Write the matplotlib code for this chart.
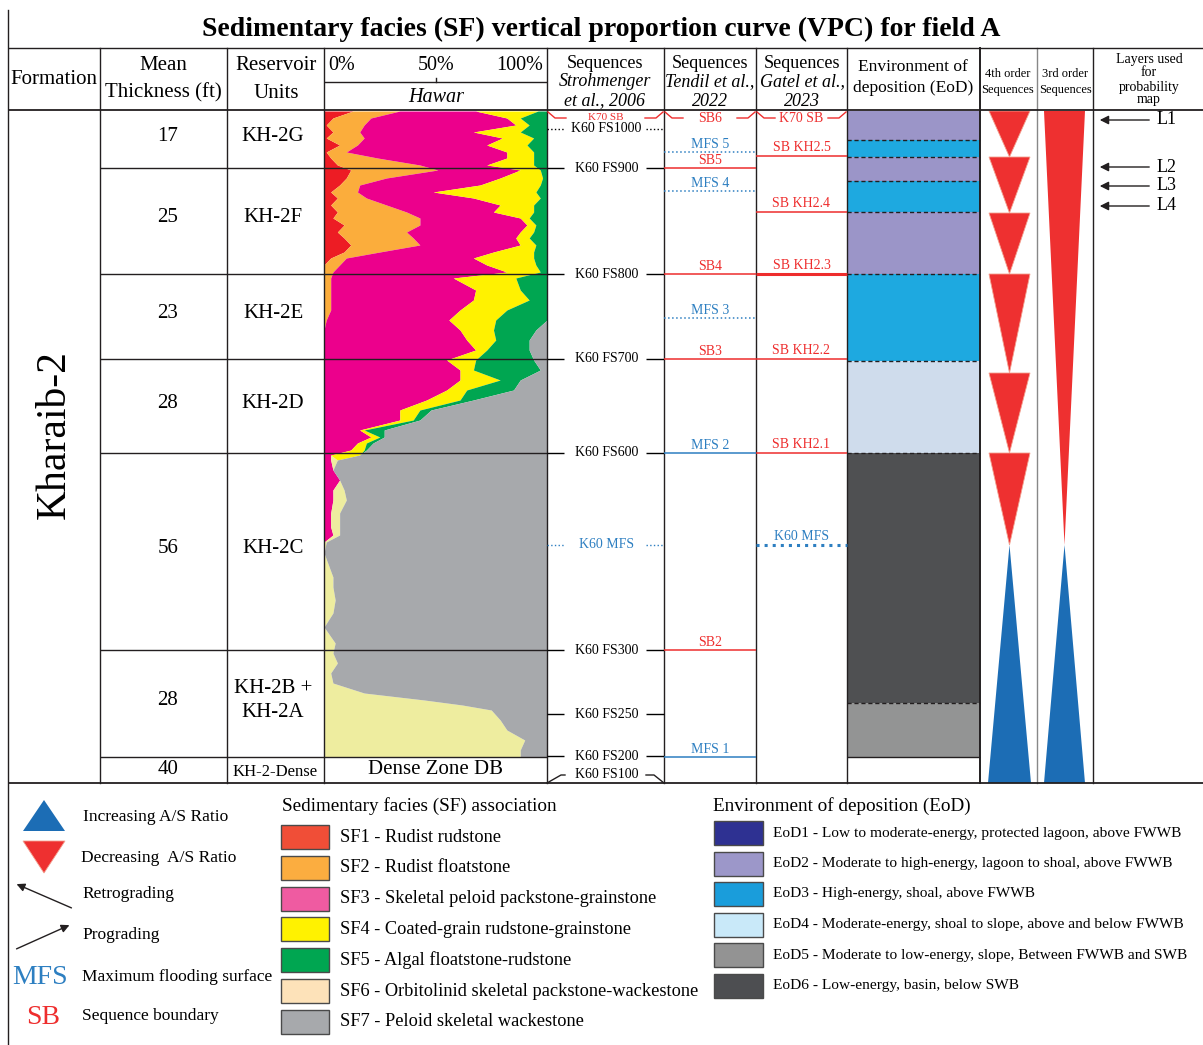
"""Sedimentary facies vertical proportion curve (VPC) panel for field A."""

import matplotlib.pyplot as plt
from matplotlib.patches import Polygon, Rectangle

plt.rcParams["font.family"] = ["Liberation Serif", "DejaVu Serif"]

# --- Data -------------------------------------------------------------------
units = ["KH-2G", "KH-2F", "KH-2E", "KH-2D", "KH-2C", "KH-2B +\nKH-2A", "KH-2-Dense"]
thickness_ft = [17, 25, 23, 28, 56, 28, 40]

# VPC: depth index below top of KH-2G (0 = top, 646 = base of KH-2A)
depth = [0, 7, 14, 21, 27, 34, 41, 47, 54, 59, 67, 74, 81, 87, 94, 101, 107,
         114, 121, 127, 134, 141, 147, 154, 161, 167, 179, 189, 199, 209, 219,
         229, 239, 249, 259, 269, 279, 289, 299, 309, 319, 326, 332, 339, 344,
         349, 359, 369, 379, 389, 402, 416, 424, 431, 442, 454, 466, 476, 489,
         502, 516, 532, 542, 552, 562, 572, 582, 589, 594, 599, 609, 619, 629,
         639, 646]
# facies proportions (%) at each depth sample; SF7 is the remainder
sf1 = [13, 4, 1, 4, 1, 7, 1, 3, 6, 12, 10, 7, 3, 6, 3, 6, 4, 9, 6, 9, 12, 9, 3,
       0, 0] + [0] * 50
sf2 = [21, 17, 17, 12, 17, 8, 9, 21, 37, 39, 18, 9, 12, 13, 25, 31, 39, 34, 31,
       31, 31, 16, 7, 7, 4, 3, 3, 3, 3, 1] + [0] * 45
sf3 = [34, 61, 68, 51, 62, 58, 72, 58, 30, 37, 51, 54, 34, 48, 51, 39, 45, 48,
       51, 46, 45, 51, 57, 66, 78, 55, 65, 64, 58, 55, 61, 64, 68, 55, 61, 61,
       55, 46, 34, 34, 16, 21, 15, 12, 3, 3, 4, 7, 4, 4, 3, 3, 4, 0, 0] + [0] * 20
sf6 = [0] * 45 + [3, 0, 0, 5, 6, 4, 4, 3, 1, 0, 2, 4, 4, 5, 4, 0, 5, 4, 6, 3, 4,
                  18, 45, 62, 75, 79, 82, 90, 88, 88]
sf4 = [28, 6, 6, 21, 14, 18, 12, 12, 21, 9, 19, 27, 46, 30, 15, 18, 4, 4, 6, 6,
       7, 18, 27, 22, 15, 28, 20, 25, 21, 21, 15, 13, 5, 13, 6, 18, 9, 15, 9, 6,
       2, 4, 4, 6, 13] + [0] * 30
sf5 = [4, 12, 8, 12, 6, 9, 6, 6, 6, 3, 2, 3, 5, 3, 6, 6, 8, 5, 6, 8, 5, 6, 6,
       5, 3, 14, 12, 8, 18, 23, 19, 15, 19, 26, 30, 9, 21, 6, 5, 3, 9, 2, 3, 1,
       0] + [0] * 30

# Sequence stratigraphic surfaces (label, type)
stroh_labels = ["K70 SB", "K60 FS1000", "K60 FS900", "K60 FS800", "K60 FS700",
                "K60 FS600", "K60 MFS", "K60 FS300", "K60 FS250", "K60 FS200",
                "K60 FS100"]
stroh_kind = ["top", "fsdot", "fs", "fs", "fs", "fs", "mfs", "fs", "fs", "fs", "bent"]
tendil_labels = ["SB6", "MFS 5", "SB5", "MFS 4", "SB4", "MFS 3", "SB3",
                 "MFS 2", "SB2", "MFS 1"]
tendil_kind = ["top", "mfsdot", "sb", "mfsdot", "sb", "mfsdot", "sb", "mfs", "sb", "mfs"]
gatel_labels = ["K70 SB", "SB KH2.5", "SB KH2.4", "SB KH2.3", "SB KH2.2",
                "SB KH2.1", "K60 MFS"]
gatel_kind = ["top", "sb", "sb", "sbthick", "sb", "sb", "mfsthick"]

eod_class = [2, 3, 2, 3, 2, 3, 4, 6, 5]
layer_names = ["L1", "L2", "L3", "L4"]

sf_legend = ["SF1 - Rudist rudstone", "SF2 - Rudist floatstone",
             "SF3 - Skeletal peloid packstone-grainstone",
             "SF4 - Coated-grain rudstone-grainstone",
             "SF5 - Algal floatstone-rudstone",
             "SF6 - Orbitolinid skeletal packstone-wackestone",
             "SF7 - Peloid skeletal wackestone"]
eod_legend = ["EoD1 - Low to moderate-energy, protected lagoon, above FWWB",
              "EoD2 - Moderate to high-energy, lagoon to shoal, above FWWB",
              "EoD3 - High-energy, shoal, above FWWB",
              "EoD4 - Moderate-energy, shoal to slope, above and below FWWB",
              "EoD5 - Moderate to low-energy, slope, Between FWWB and SWB",
              "EoD6 - Low-energy, basin, below SWB"]

# --- Layout (pixel grid of the panel) -----------------------------------------
W, H = 1203, 1045
COLS = [8, 100, 227, 324, 547, 664, 756, 847, 980, 1037, 1093, 1203]
ROWS = [111, 168, 274, 359, 453, 650, 757, 783]
STROH_Y = [118, 129, 168, 274, 359, 453, 545, 650, 714, 756, 775]
TENDIL_Y = [118, 152, 168, 191, 274, 318, 359, 453, 650, 757]
GATEL_Y = [118, 156, 212, 274, 359, 453, 545]
EOD_EDGES = [111, 140, 157, 181, 212, 274, 361, 453, 703, 757]
FOURTH_EDGES = [111, 157, 213, 274, 373, 453, 545]
CYCLE_TURN = 545
LAYER_Y = [120, 167, 186, 206]

SF_CURVE = ["#ed1c24", "#fbad3c", "#ec008c", "#eeed9f", "#fff200", "#00a651", "#a7a9ac"]
SF_LEG = ["#f04e37", "#fbad40", "#ef5ba1", "#fff200", "#00a651", "#fde2b9", "#a7a9ac"]
EOD_COL = {1: "#2e3192", 2: "#9b95c8", 3: "#1ea9e0", 4: "#cfdcec", 5: "#939494", 6: "#4f5052"}
EOD_LEG = ["#2e3192", "#9c97c9", "#1a9ddb", "#c9e9f9", "#939393", "#4d4e51"]
RED = "#ee2d2d"
BLUE = "#2d7fc1"
TRI_RED = "#ee3030"
TRI_BLUE = "#1c6db5"
LINE = "#231f20"

fig = plt.figure(figsize=(W / 100, H / 100), dpi=100)
fig.patch.set_facecolor("white")
ax = fig.add_axes([0, 0, 1, 1])
ax.set_xlim(0, W)
ax.set_ylim(H, 0)
ax.axis("off")
ax.set_zorder(2)
ax.patch.set_visible(False)

# --- VPC curve ----------------------------------------------------------------
vax = fig.add_axes([COLS[3] / W, 1 - ROWS[6] / H, (COLS[4] - COLS[3]) / W,
                    (ROWS[6] - ROWS[0]) / H])
vax.set_zorder(1)
vax.set_xlim(0, 100)
vax.set_ylim(depth[-1], 0)
vax.axis("off")
left = [0] * len(depth)
for vals, col in zip([sf1, sf2, sf3, sf6, sf4, sf5], SF_CURVE[:6]):
    right = [a + b for a, b in zip(left, vals)]
    vax.fill_betweenx(depth, left, right, color=col, lw=0)
    left = right
vax.fill_betweenx(depth, left, 100, color=SF_CURVE[6], lw=0)


def hline(y, x0, x1, **kw):
    kw.setdefault("color", LINE)
    kw.setdefault("lw", 1.0)
    ax.plot([x0, x1], [y, y], solid_capstyle="butt", **kw)


def vline(x, y0, y1, **kw):
    kw.setdefault("color", LINE)
    kw.setdefault("lw", 1.0)
    ax.plot([x, x], [y0, y1], **kw)


# --- Grid ------------------------------------------------------------------------
vline(COLS[0], 10, H)
for x in COLS[1:-1]:
    lw = 1.4 if x == 980 else 1.0
    col = "#888888" if x == 1037 else LINE
    vline(x, 48, ROWS[-1], lw=lw, color=col)
hline(48, COLS[0], W)
hline(110, COLS[0], W, lw=1.3)
hline(ROWS[-1], COLS[0], W, lw=1.3)
for y in ROWS[1:-1]:
    hline(y, COLS[1], COLS[4])
hline(82, COLS[3], COLS[4])
vline(436, 78, 82)

ax.text(601, 29, "Sedimentary facies (SF) vertical proportion curve (VPC) for field A",
        ha="center", va="center", fontsize=20, fontweight="bold")

# header
hdr = dict(ha="center", va="center", fontsize=15)
ax.text(54, 79, "Formation", **hdr)
ax.text(163, 66, "Mean", **hdr)
ax.text(163, 93, "Thickness (ft)", **hdr)
ax.text(276, 66, "Reservoir", **hdr)
ax.text(276, 93, "Units", **hdr)
ax.text(328, 66, "0%", ha="left", va="center", fontsize=14.5)
ax.text(436, 66, "50%", ha="center", va="center", fontsize=14.5)
ax.text(543, 66, "100%", ha="right", va="center", fontsize=14.5)
ax.text(436, 97, "Hawar", ha="center", va="center", fontsize=14.5, style="italic")
for xc, who, yr in [(605, "Strohmenger", "et al., 2006"),
                    (710, "Tendil et al.,", "2022"),
                    (802, "Gatel et al.,", "2023")]:
    ax.text(xc, 63, "Sequences", ha="center", va="center", fontsize=13)
    ax.text(xc, 82, who, ha="center", va="center", fontsize=13, style="italic")
    ax.text(xc, 101, yr, ha="center", va="center", fontsize=13, style="italic")
ax.text(913, 67, "Environment of", ha="center", va="center", fontsize=12.5)
ax.text(913, 88, "deposition (EoD)", ha="center", va="center", fontsize=12.5)
for xc, lab in [(1008, "4th order"), (1065, "3rd order")]:
    ax.text(xc, 74, lab, ha="center", va="center", fontsize=9)
    ax.text(xc, 90, "Sequences", ha="center", va="center", fontsize=9)
for yy, lab in zip([60, 73, 87, 100], ["Layers used", "for", "probability", "map"]):
    ax.text(1149, yy, lab, ha="center", va="center", fontsize=10)

# rows
ax.text(55, 435, "Kharaib-2", rotation=90, ha="center", va="center", fontsize=30)
for i, (u, t) in enumerate(zip(units, thickness_ft)):
    yc = (ROWS[i] + ROWS[i + 1]) / 2 - (3 if i < 6 else 0)
    ax.text(168, yc, str(t), ha="center", va="center", fontsize=15)
    fs = 12 if u == "KH-2-Dense" else 15
    ax.text(275 if i == 6 else 273, yc + (2 if i == 6 else 0), u, ha="center",
            va="center", fontsize=fs, linespacing=1.3)
ax.text(435, 770, "Dense Zone DB", ha="center", va="center", fontsize=15)


# --- Sequence columns ------------------------------------------------------------
def bracket(x0, x1, y, lab):
    xc = (x0 + x1) / 2
    ax.plot([x0 + 1, x0 + 8, x0 + 19], [y - 6, y, y], color=RED, lw=1)
    ax.plot([x1 - 19, x1 - 8, x1 - 1], [y, y, y - 6], color=RED, lw=1)
    ax.text(xc, y, lab, ha="center", va="center", fontsize=8 if x0 == 547 else 10,
            color=RED)


x0, x1 = COLS[4], COLS[5]
for lab, kind, y in zip(stroh_labels, stroh_kind, STROH_Y):
    xc = (x0 + x1) / 2 + 1
    if kind == "top":
        bracket(x0, x1, y, lab)
        continue
    col = BLUE if kind == "mfs" else "black"
    ls = ":" if kind in ("fsdot", "mfs") else "-"
    if kind == "bent":
        ax.plot([x0, x0 + 14, x0 + 18], [ROWS[-1], y, y], color=LINE, lw=1)
        ax.plot([x1 - 18, x1 - 10, x1], [y, y, ROWS[-1]], color=LINE, lw=1)
    else:
        hline(y, x0, x0 + 17, color=col, ls=ls)
        hline(y, x1 - 18, x1, color=col, ls=ls)
    ax.text(xc, y, lab, ha="center", va="center", fontsize=10, color=col)

x0, x1 = COLS[5], COLS[6]
for lab, kind, y in zip(tendil_labels, tendil_kind, TENDIL_Y):
    if kind == "top":
        bracket(x0, x1, y, lab)
        continue
    col = RED if kind == "sb" else BLUE
    ls = ":" if kind == "mfsdot" else "-"
    hline(y, x0, x1, color=col, ls=ls, lw=1.1)
    ax.text((x0 + x1) / 2, y - 1, lab, ha="center", va="bottom", fontsize=10, color=col)

x0, x1 = COLS[6], COLS[7]
for lab, kind, y in zip(gatel_labels, gatel_kind, GATEL_Y):
    if kind == "top":
        bracket(x0, x1, y, lab)
        continue
    col = BLUE if kind == "mfsthick" else RED
    ls = ":" if kind == "mfsthick" else "-"
    lw = 2.2 if kind in ("sbthick", "mfsthick") else 1.1
    hline(y, x0, x1, color=col, ls=ls, lw=lw)
    ax.text((x0 + x1) / 2, y - 2, lab, ha="center", va="bottom", fontsize=10, color=col)

# --- EoD column ----------------------------------------------------------------
ex0, ex1 = COLS[7], COLS[8]
for c, y0, y1 in zip(eod_class, EOD_EDGES[:-1], EOD_EDGES[1:]):
    ax.add_patch(Rectangle((ex0, y0), ex1 - ex0, y1 - y0, facecolor=EOD_COL[c],
                           edgecolor="none", zorder=1))
for y in EOD_EDGES[1:-1]:
    hline(y, ex0, ex1, ls=(0, (3, 2)), lw=1.0, zorder=2)
hline(EOD_EDGES[-1], ex0, ex1, lw=1.0)

# --- 4th and 3rd order cycles ----------------------------------------------------
fx0, fx1 = 989, 1030
fxc = (fx0 + fx1) / 2
for y0, y1 in zip(FOURTH_EDGES[:-1], FOURTH_EDGES[1:]):
    ax.add_patch(Polygon([(fx0, y0), (fx1, y0), (fxc, y1)], closed=True,
                         facecolor=TRI_RED, edgecolor="#f3a08f", lw=0.6))
ax.add_patch(Polygon([(fxc, CYCLE_TURN), (fx0 - 1, ROWS[-1]), (fx1 + 1, ROWS[-1])],
                     closed=True, facecolor=TRI_BLUE, edgecolor="none"))
tx0, tx1 = 1044, 1085
txc = (tx0 + tx1) / 2
ax.add_patch(Polygon([(tx0, ROWS[0]), (tx1, ROWS[0]), (txc, CYCLE_TURN)], closed=True,
                     facecolor=TRI_RED, edgecolor="none"))
ax.add_patch(Polygon([(txc, CYCLE_TURN), (tx0, ROWS[-1]), (tx1, ROWS[-1])], closed=True,
                     facecolor=TRI_BLUE, edgecolor="none"))

# --- Layers ---------------------------------------------------------------------
for lab, y in zip(layer_names, LAYER_Y):
    ax.annotate("", xy=(1097, y), xytext=(1152, y),
                arrowprops=dict(arrowstyle="-|>", color=LINE, lw=1, mutation_scale=13))
    ax.text(1157, y, lab, ha="left", va="center", fontsize=13)

# --- Legends --------------------------------------------------------------------
ax.add_patch(Polygon([(44, 800), (23, 831), (65, 831)], closed=True, facecolor=TRI_BLUE,
                     edgecolor="none"))
ax.add_patch(Polygon([(23, 841), (65, 841), (44, 873)], closed=True, facecolor=TRI_RED,
                     edgecolor="#f3a08f", lw=0.6))
ax.annotate("", xy=(14, 883), xytext=(74, 909),
            arrowprops=dict(arrowstyle="-|>", color=LINE, lw=1, mutation_scale=12))
ax.annotate("", xy=(72, 924), xytext=(14, 950),
            arrowprops=dict(arrowstyle="-|>", color=LINE, lw=1, mutation_scale=12))
leg = dict(ha="left", va="center", fontsize=12.5)
ax.text(83, 817, "Increasing A/S Ratio", **leg)
ax.text(81, 858, "Decreasing  A/S Ratio", **leg)
ax.text(82, 894, "Retrograding", **leg)
ax.text(82, 935, "Prograding", **leg)
ax.text(82, 977, "Maximum flooding surface", **leg)
ax.text(82, 1016, "Sequence boundary", **leg)
ax.text(40, 977, "MFS", ha="center", va="center", fontsize=20, color=BLUE)
ax.text(43, 1017, "SB", ha="center", va="center", fontsize=20, color=RED)

ax.text(282, 806, "Sedimentary facies (SF) association", ha="left", va="center",
        fontsize=13.8)
for i, (lab, col) in enumerate(zip(sf_legend, SF_LEG)):
    yc = 837 + i * 30.8
    ax.add_patch(Rectangle((281, yc - 12), 48, 24, facecolor=col, edgecolor="#4a4a4a",
                           lw=1))
    ax.text(340, yc, lab, ha="left", va="center", fontsize=13.2)

ax.text(713, 806, "Environment of deposition (EoD)", ha="left", va="center",
        fontsize=13.8)
for i, (lab, col) in enumerate(zip(eod_legend, EOD_LEG)):
    yc = 833 + i * 30.5
    ax.add_patch(Rectangle((714, yc - 12), 49, 24, facecolor=col, edgecolor="#4a4a4a",
                           lw=1))
    ax.text(773, yc, lab, ha="left", va="center", fontsize=11.1)

fig.savefig("out.png", dpi=100, facecolor="white")
plt.close(fig)
